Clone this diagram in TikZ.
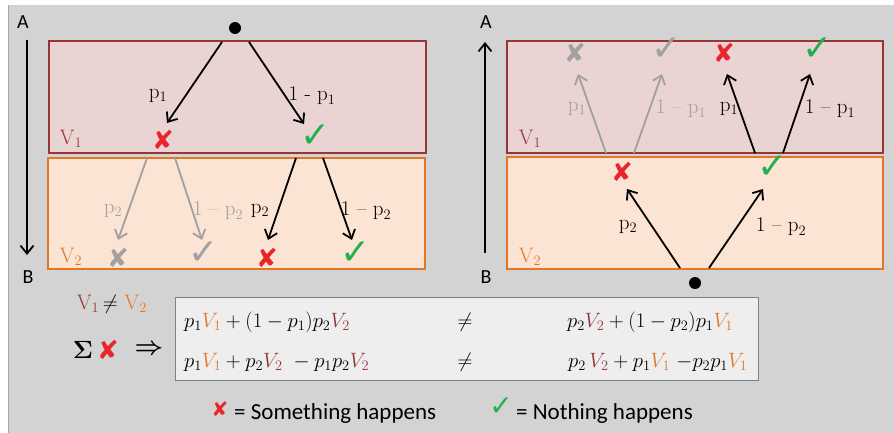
\documentclass[tikz,border=0pt]{standalone}
\usepackage{fontspec}
\usetikzlibrary{arrows.meta}
\newfontfamily\symfont{DejaVu Sans}
\newfontfamily\calfont{Carlito}
\definecolor{bggray}{RGB}{211,211,211}
\definecolor{pinkfill}{RGB}{234,211,211}
\definecolor{peachfill}{RGB}{252,228,212}
\definecolor{dred}{RGB}{149,55,53}
\definecolor{orng}{RGB}{228,118,40}
\definecolor{fadegray}{RGB}{160,160,160}
\definecolor{crossred}{RGB}{232,38,42}
\definecolor{tickgreen}{RGB}{36,176,80}
\definecolor{formfill}{RGB}{238,238,238}
\tikzset{
  lbl/.style={font=\fontsize{21}{23}\selectfont, inner sep=1pt},
  sans/.style={font=\calfont\fontsize{20}{22}\selectfont, inner sep=1pt},
  pth/.style={line width=1.8pt, ->},
  faded/.style={pth, draw=fadegray},
  crossm/.style={text=crossred, font=\symfont\fontsize{26}{28}\selectfont, inner sep=0pt},
  tickm/.style={text=tickgreen, font=\symfont\fontsize{36}{38}\selectfont, inner sep=0pt},
  formula/.style={font=\fontsize{21}{24}\selectfont, inner sep=0pt},
  layer1/.style={fill=pinkfill, draw=dred, line width=1.2pt},
  layer2/.style={fill=peachfill, draw=orng, line width=1.2pt}
}
\begin{document}
\begin{tikzpicture}[>={Straight Barb[length=8pt,width=13pt]}, x=1pt, y=-1pt]
  \useasboundingbox (0,0) rectangle (894,433);
  \fill[white] (0,0) rectangle (894,433);
  \fill[bggray] (8,5) rectangle (894,433);
  \draw[gray!70, line width=1pt] (8,5) -- (8,433);

  % left panel: A to B
  \draw[layer1] (49,41) rectangle (426,153);
  \draw[layer2] (48,158) rectangle (425,269);
  \node[sans] (la) at (23,22) {A};
  \node[sans] (lb) at (28,277) {B};
  \draw[pth] (27,40) coordinate (lat) -- (27,255) coordinate (lbt);
  \fill (235,28) circle (6) coordinate (ldot);
  \node[lbl, text=dred] (lv1) at (71,139) {V$_1$};
  \node[lbl, text=orng] (lv2) at (71,257) {V$_2$};
  \node[crossm] (lx1) at (163,140) {✘};
  \node[tickm] (lc1) at (316,136) {✓};
  \coordinate (s1) at (222,42);
  \coordinate (s2) at (249,42);
  \draw[pth] (s1) -- (167,123) coordinate (e1);
  \draw[pth] (s2) -- (304,124) coordinate (e2);
  \node[lbl] (lp1) at (158,96) {$\mathrm{p}_1$};
  \node[lbl] (lq1) at (312,96) {1 - $\mathrm{p}_1$};
  \node[crossm, text=fadegray] (lxa) at (118,258) {✘};
  \node[tickm, text=fadegray] (lca) at (204,253) {✓};
  \node[crossm] (lxb) at (267,258) {✘};
  \node[tickm] (lcb) at (356,253) {✓};
  \draw[faded] (147,158) coordinate (s3) -- (118,240) coordinate (e3);
  \draw[faded] (175,158) coordinate (s4) -- (202,240) coordinate (e4);
  \draw[pth] (296,158) coordinate (s5) -- (268,240) coordinate (e5);
  \draw[pth] (323,158) coordinate (s6) -- (352,240) coordinate (e6);
  \node[lbl, text=fadegray] (lp2a) at (113,211) {$\mathrm{p}_2$};
  \node[lbl, text=fadegray] (lq2a) at (218,211) {1 -- $\mathrm{p}_2$};
  \node[lbl] (lp2b) at (260,211) {$\mathrm{p}_2$};
  \node[lbl] (lq2b) at (366,211) {1 -- $\mathrm{p}_2$};

  % right panel: B to A
  \draw[layer1] (507,41) rectangle (883,153);
  \draw[layer2] (507,157) rectangle (883,269);
  \node[sans] (ra) at (486,22) {A};
  \node[sans] (rb) at (486,277) {B};
  \draw[pth] (485,253) coordinate (rbt) -- (485,42) coordinate (rat);
  \fill (695,283) circle (6) coordinate (rdot);
  \node[lbl, text=dred] (rv1) at (530,139) {V$_1$};
  \node[lbl, text=orng] (rv2) at (530,257) {V$_2$};
  \node[crossm] (rx2) at (622,172) {✘};
  \node[tickm] (rc2) at (773,167) {✓};
  \draw[pth] (680,268) coordinate (s7) -- (627,189) coordinate (e7);
  \draw[pth] (709,268) coordinate (s8) -- (763,189) coordinate (e8);
  \node[lbl] (rp2) at (628,227) {$\mathrm{p}_2$};
  \node[lbl] (rq2) at (781,227) {1 -- $\mathrm{p}_2$};
  \node[crossm, text=fadegray] (rxa) at (575,53) {✘};
  \node[tickm, text=fadegray] (rca) at (667,49) {✓};
  \node[crossm] (rxb) at (724,53) {✘};
  \node[tickm] (rcb) at (818,49) {✓};
  \draw[faded] (606,153) coordinate (s9) -- (578,74) coordinate (e9);
  \draw[faded] (634,153) coordinate (s10) -- (662,74) coordinate (e10);
  \draw[pth] (755,153) coordinate (s11) -- (727,74) coordinate (e11);
  \draw[pth] (783,153) coordinate (s12) -- (810,74) coordinate (e12);
  \node[lbl, text=fadegray] (rp1a) at (577,109) {$\mathrm{p}_1$};
  \node[lbl, text=fadegray] (rq1a) at (681,109) {1 -- $\mathrm{p}_1$};
  \node[lbl] (rp1b) at (729,109) {$\mathrm{p}_1$};
  \node[lbl] (rq1b) at (830,109) {1 -- $\mathrm{p}_1$};

  % sums
  \node[lbl] (neq) at (112,304) {\textcolor{dred}{V$_1$}\,$\neq$\,\,\textcolor{orng}{V$_2$}};
  \node[font=\fontsize{30}{32}\selectfont\boldmath, inner sep=0pt] (sig) at (83,350) {$\Sigma$};
  \node[crossm] (sx) at (108,350) {✘};
  \node[font=\fontsize{34}{34}\selectfont\boldmath, inner sep=0pt] (impl) at (149,350) {$\Rightarrow$};
  \draw[fill=formfill, draw=gray, line width=1pt] (175,297) rectangle (758,380);
  \node[formula, anchor=west] (f1l) at (184,322)
    {$p_1\textcolor{orng}{V_1}+(1-p_1)p_2\textcolor{dred}{V_2}$};
  \node[formula, anchor=west] (f2l) at (184,362)
    {$p_1\textcolor{orng}{V_1}+p_2\textcolor{dred}{V_2}\ -p_1p_2\textcolor{dred}{V_2}$};
  \node[formula] (n1) at (465,322) {$\neq$};
  \node[formula] (n2) at (465,362) {$\neq$};
  \node[formula, anchor=west] (f1r) at (567,322)
    {$p_2\textcolor{dred}{V_2}+(1-p_2)p_1\textcolor{orng}{V_1}$};
  \node[formula, anchor=west] (f2r) at (568,362)
    {$p_2\,\textcolor{dred}{V_2}+p_1\textcolor{orng}{V_1}\ {-}p_2p_1\textcolor{orng}{V_1}$};

  % legend
  \node[crossm, font=\symfont\fontsize{20}{22}\selectfont] (kx) at (220,409) {✘};
  \node[sans, anchor=west, font=\calfont\fontsize{23}{25}\selectfont] (kxt) at (233,413) {= Something happens};
  \node[tickm, font=\symfont\fontsize{28}{30}\selectfont] (kc) at (501,407) {✓};
  \node[sans, anchor=west, font=\calfont\fontsize{23}{25}\selectfont] (kct) at (515,413) {= Nothing happens};
\end{tikzpicture}
\end{document}
